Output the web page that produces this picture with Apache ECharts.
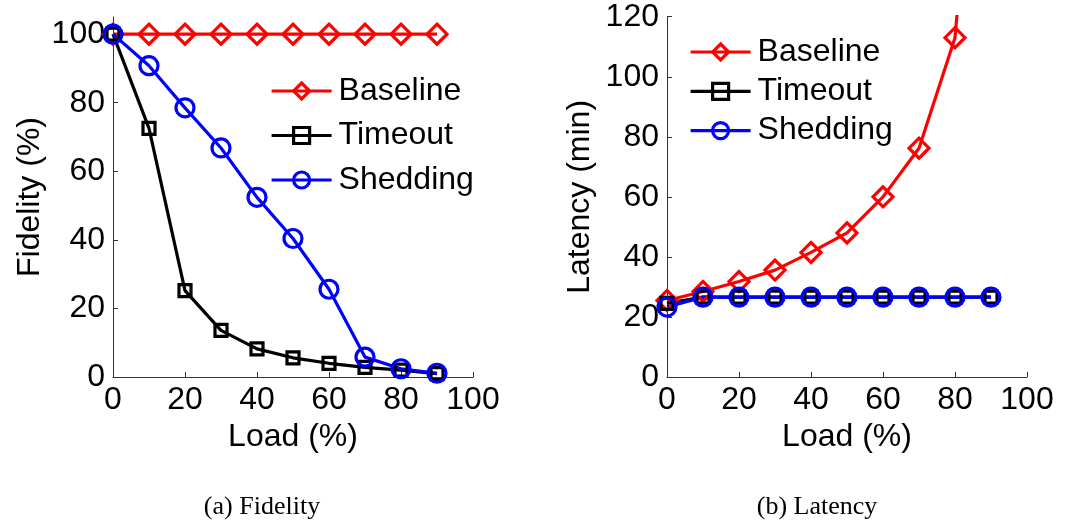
<!DOCTYPE html>
<html>
<head>
<meta charset="utf-8">
<script src="https://cdn.jsdelivr.net/npm/echarts@6/dist/echarts.min.js"></script>
<style>
html,body{margin:0;padding:0;background:#fff;}
#chart{width:1079px;height:525px;}
</style>
</head>
<body>
<div id="chart"></div>
<script>
// ---- data ----
const loads = [0, 10, 20, 30, 40, 50, 60, 70, 80, 90];
const seriesNames = ['Baseline', 'Timeout', 'Shedding'];
const fidBaseline = [100, 100, 100, 100, 100, 100, 100, 100, 100, 100];
const fidTimeout  = [100, 72.5, 25.2, 13.6, 8.2, 5.6, 4.0, 2.8, 2.0, 1.0];
const fidShedding = [100, 90.8, 78.5, 66.8, 52.4, 40.4, 25.6, 5.8, 2.4, 1.1];
const latBaseline = [25.5, 28.5, 31.8, 35.6, 41.5, 48, 60, 76.2, 113, 250];
const latTimeout  = [24.5, 26.6, 26.6, 26.6, 26.6, 26.6, 26.6, 26.6, 26.6, 26.6];
const latShedding = [23.3, 26.6, 26.6, 26.6, 26.6, 26.6, 26.6, 26.6, 26.6, 26.6];
const xTicks = [0, 20, 40, 60, 80, 100];
const fidTicks = [0, 20, 40, 60, 80, 100];
const latTicks = [0, 20, 40, 60, 80, 100, 120];
const captions = ['(a) Fidelity', '(b) Latency'];

const FONT = '"Liberation Sans", Arial, Helvetica, sans-serif';
const FS = 32;
const colors = {Baseline: '#ff0000', Timeout: '#000000', Shedding: '#0000ff'};
const symbols = {Baseline: 'diamond', Timeout: 'rect', Shedding: 'circle'};
const sizes = {Baseline: 20, Timeout: 12, Shedding: 18};

function pairs(vals) { return loads.map((x, i) => [x, vals[i]]); }

function mkSeries(name, vals, idx) {
  return {
    type: 'line', name: name, data: pairs(vals),
    xAxisIndex: idx, yAxisIndex: idx,
    symbol: symbols[name], symbolSize: sizes[name],
    showAllSymbol: true, clip: true,
    lineStyle: {color: colors[name], width: 3.2},
    itemStyle: {color: 'rgba(0,0,0,0)', borderColor: colors[name], borderWidth: 3.2},
    emphasis: {disabled: true},
    animation: false
  };
}

function xAxisCfg(idx) {
  return {
    type: 'value', gridIndex: idx, min: 0, max: 100, interval: 20,
    name: 'Load (%)', nameLocation: 'middle', nameGap: 41,
    nameTextStyle: {fontFamily: FONT, fontSize: FS, color: '#000'},
    axisLine: {show: true, lineStyle: {color: '#333', width: 1}},
    axisTick: {show: true, inside: true, length: 5, lineStyle: {color: '#333'}, customValues: xTicks},
    axisLabel: {fontFamily: FONT, fontSize: FS, color: '#000', margin: 7, customValues: xTicks},
    splitLine: {show: false}
  };
}

function yAxisCfg(idx, name, max, ticks, gap) {
  return {
    type: 'value', gridIndex: idx, min: 0, max: max, interval: 20,
    name: name, nameLocation: 'middle', nameGap: gap,
    nameTextStyle: {fontFamily: FONT, fontSize: FS, color: '#000'},
    axisLine: {show: true, lineStyle: {color: '#333', width: 1}},
    axisTick: {show: true, inside: true, length: 5, lineStyle: {color: '#333'}, customValues: ticks},
    axisLabel: {fontFamily: FONT, fontSize: FS, color: '#000', margin: 8, customValues: ticks},
    splitLine: {show: false}
  };
}

function legendCfg(left, top, gap) {
  return {
    data: seriesNames, orient: 'vertical', left: left, top: top,
    itemWidth: 60, itemHeight: 20, itemGap: gap,
    lineStyle: {width: 3.2},
    itemStyle: {borderWidth: 3.2},
    textStyle: {fontFamily: FONT, fontSize: FS, color: '#000', lineHeight: 32, padding: [0, 0, 0, 2]},
    padding: 0, selectedMode: false
  };
}

const chart = echarts.init(document.getElementById('chart'), null, {renderer: 'canvas'});
chart.setOption({
  backgroundColor: '#fff',
  animation: false,
  grid: [
    {left: 113, top: 17, width: 360, bottom: 148},
    {left: 667, top: 16.7, width: 360, bottom: 148}
  ],
  xAxis: [xAxisCfg(0), xAxisCfg(1)],
  yAxis: [
    yAxisCfg(0, 'Fidelity (%)', 105, fidTicks, 67),
    yAxisCfg(1, 'Latency (min)', 120, latTicks, 71)
  ],
  legend: [legendCfg(270, 75, 12.5), legendCfg(689, 36, 7.3)],
  series: [
    mkSeries('Baseline', fidBaseline, 0),
    mkSeries('Timeout', fidTimeout, 0),
    mkSeries('Shedding', fidShedding, 0),
    mkSeries('Baseline', latBaseline, 1),
    mkSeries('Timeout', latTimeout, 1),
    mkSeries('Shedding', latShedding, 1)
  ],
  graphic: [
    {type: 'text',
     style: {text: captions[0], x: 262, y: 507, align: 'center', verticalAlign: 'middle',
             font: '26px "Liberation Serif", "Times New Roman", serif', fill: '#000'}},
    {type: 'text',
     style: {text: captions[1], x: 817, y: 507, align: 'center', verticalAlign: 'middle',
             font: '26px "Liberation Serif", "Times New Roman", serif', fill: '#000'}}
  ]
});
</script>
</body>
</html>
